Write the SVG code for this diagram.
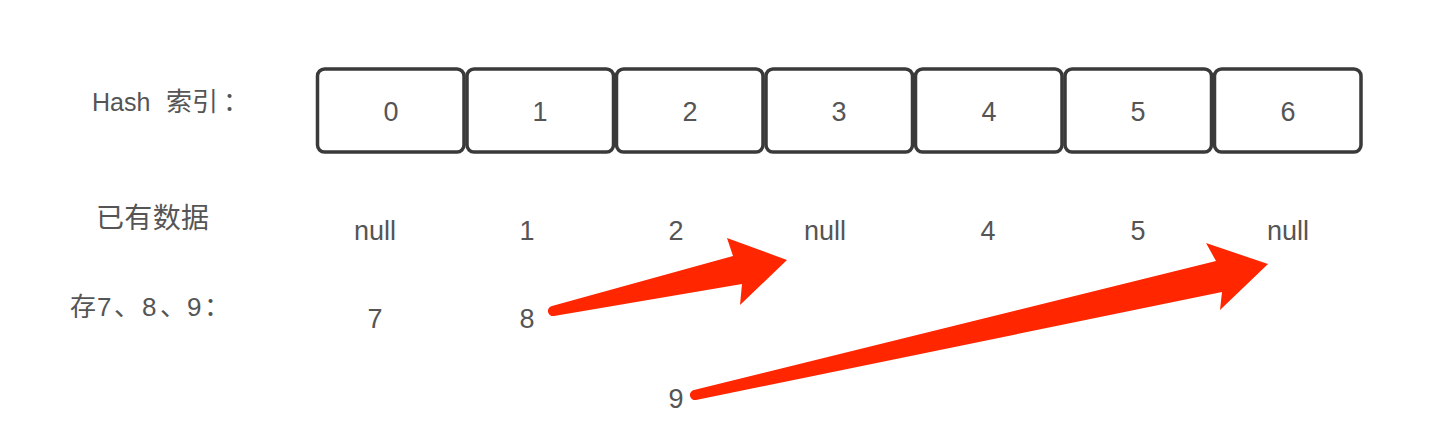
<svg xmlns="http://www.w3.org/2000/svg" width="1435" height="436" viewBox="0 0 1435 436">
<style>
.box{fill:#fff;stroke:#3a3a3a;stroke-width:3.5}
.t{font-family:"Liberation Sans","Noto Sans CJK SC",sans-serif;fill:#555;text-anchor:middle;font-size:27px}
.lbl{font-family:"Liberation Sans","Noto Sans CJK SC",sans-serif;fill:#555;font-size:25px}
.arr{fill:#ff2600}
</style>
<rect width="1435" height="436" fill="#fff"/>
<g id="labels">
<text class="lbl" x="92" y="111"><tspan x="92">Hash</tspan><tspan x="166" style="font-size:26px">索引</tspan><tspan x="223" style="font-size:26px">：</tspan></text>
<text class="lbl" x="96" y="228" style="font-size:28px" textLength="113" lengthAdjust="spacing">已有数据</text>
<text class="lbl" x="70" y="316" style="font-size:26px"><tspan x="70">存</tspan><tspan x="97">7</tspan><tspan x="114">、</tspan><tspan x="142">8</tspan><tspan x="160">、</tspan><tspan x="187">9</tspan><tspan x="204">：</tspan></text>
</g>
<g id="bucket0"><rect class="box" x="317.5" y="69" width="146.5" height="83" rx="7"/><text class="t" x="391" y="121">0</text></g>
<g id="bucket1"><rect class="box" x="467" y="69" width="146.5" height="83" rx="7"/><text class="t" x="540" y="121">1</text></g>
<g id="bucket2"><rect class="box" x="616.5" y="69" width="146.5" height="83" rx="7"/><text class="t" x="690" y="121">2</text></g>
<g id="bucket3"><rect class="box" x="766" y="69" width="146.5" height="83" rx="7"/><text class="t" x="839" y="121">3</text></g>
<g id="bucket4"><rect class="box" x="915.5" y="69" width="146.5" height="83" rx="7"/><text class="t" x="989" y="121">4</text></g>
<g id="bucket5"><rect class="box" x="1065" y="69" width="146.5" height="83" rx="7"/><text class="t" x="1138" y="121">5</text></g>
<g id="bucket6"><rect class="box" x="1214.5" y="69" width="146.5" height="83" rx="7"/><text class="t" x="1288" y="121">6</text></g>
<g id="existing">
<text class="t" x="375" y="240">null</text>
<text class="t" x="527" y="240">1</text>
<text class="t" x="676" y="240">2</text>
<text class="t" x="825" y="240">null</text>
<text class="t" x="988" y="240">4</text>
<text class="t" x="1138" y="240">5</text>
<text class="t" x="1288" y="240">null</text>
</g>
<g id="new">
<text class="t" x="375" y="328">7</text>
<text class="t" x="527" y="328">8</text>
<text class="t" x="676" y="408">9</text>
</g>
<g id="connectors">
<path class="arr" d="M552 306 L733 256 L727 238 L787 260 L740 305 L742 284 L554 316 A5 5 0 0 1 552 306 Z"/>
<path class="arr" d="M694 390 L1216 261 L1206 243 L1268 264 L1220 310 L1222 292 L696 400 A5 5 0 0 1 694 390 Z"/>
</g>
</svg>
